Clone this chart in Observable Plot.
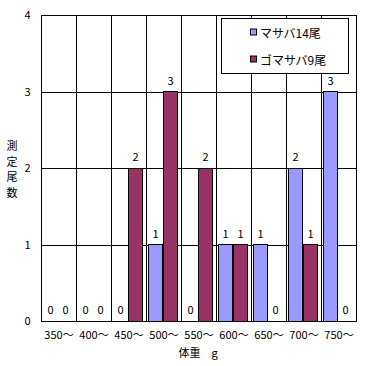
<!DOCTYPE html>
<html><head><meta charset="utf-8">
<script src="https://cdn.jsdelivr.net/npm/d3@7"></script>
<script src="https://cdn.jsdelivr.net/npm/@observablehq/plot@0.6"></script>
<style>
body{margin:0;background:#fff}
svg{font-family:"Noto Sans CJK JP","Noto Sans",sans-serif}
</style>
</head><body><div id="chart"></div>
<script>
const categories = ["350～","400～","450～","500～","550～","600～","650～","700～","750～"];
const seriesNames = ["マサバ14尾","ゴマサバ9尾"];
const masaba = [0,0,0,1,0,1,1,2,3];
const gomasaba = [0,0,2,3,2,1,0,1,0];
const colors = ["#9999FF","#993366"];
const yTicks = [0,1,2,3,4];
const yLabel = "測定尾数";
const xLabel = "体重　g";

const data = categories.flatMap((c,i)=>[
  {cat:c, series:seriesNames[0], value:masaba[i]},
  {cat:c, series:seriesNames[1], value:gomasaba[i]}
]);

const chart = Plot.plot({
  width:375, height:366,
  marginLeft:40, marginRight:18, marginTop:15, marginBottom:45,
  style:{fontSize:"11px", fontFamily:'"Noto Sans CJK JP","Noto Sans",sans-serif', background:"#fff", color:"#000"},
  fx:{domain:categories, padding:0, axis:"bottom", label:null, tickSize:0, tickPadding:10},
  x:{domain:seriesNames, axis:null, paddingInner:0.04, paddingOuter:0.15, align:0.3},
  y:{domain:[0,4], ticks:yTicks, tickSize:0, tickPadding:11, label:null, tickFormat:d3.format("d")},
  color:{domain:seriesNames, range:colors},
  marks:[
    Plot.ruleY(yTicks, {stroke:"#000", shapeRendering:"crispEdges"}),
    Plot.frame({stroke:"#000", shapeRendering:"crispEdges"}),
    Plot.barY(data, {fx:"cat", x:"series", y:"value", fill:"series", stroke:"#000", strokeWidth:1, filter:d=>d.value>0, shapeRendering:"crispEdges"}),
    Plot.text(data, {fx:"cat", x:"series", y:"value", text:"value", dy:-11, fill:"#000", fontSize:11})
  ]
});
document.getElementById("chart").append(chart);

const svg = d3.select(chart);
// vertical y label
svg.append("g").attr("font-size", 11).attr("text-anchor","middle")
  .selectAll("text").data(Array.from(yLabel)).join("text")
  .attr("x", 12).attr("y", (d,i)=>145 + i*15.5).attr("dominant-baseline","central").text(d=>d);
// x label
svg.append("text").attr("x", 198).attr("y", 352).attr("text-anchor","middle")
  .attr("dominant-baseline","central").attr("font-size", 11).text(xLabel);
// legend
const lg = svg.append("g").attr("text-anchor","start");
lg.append("rect").attr("x",221.5).attr("y",18.5).attr("width",127).attr("height",55)
  .attr("fill","#fff").attr("stroke","#000");
seriesNames.forEach((s,i)=>{
  const cy = 32.5 + i*27;
  lg.append("rect").attr("x",250.5).attr("y",cy-3.5).attr("width",6).attr("height",6)
    .attr("fill",colors[i]).attr("stroke","#000");
  lg.append("text").attr("x",260).attr("y",cy).attr("text-anchor","start").attr("dominant-baseline","central")
    .attr("font-size",12).text(s);
});
</script>
</body></html>
